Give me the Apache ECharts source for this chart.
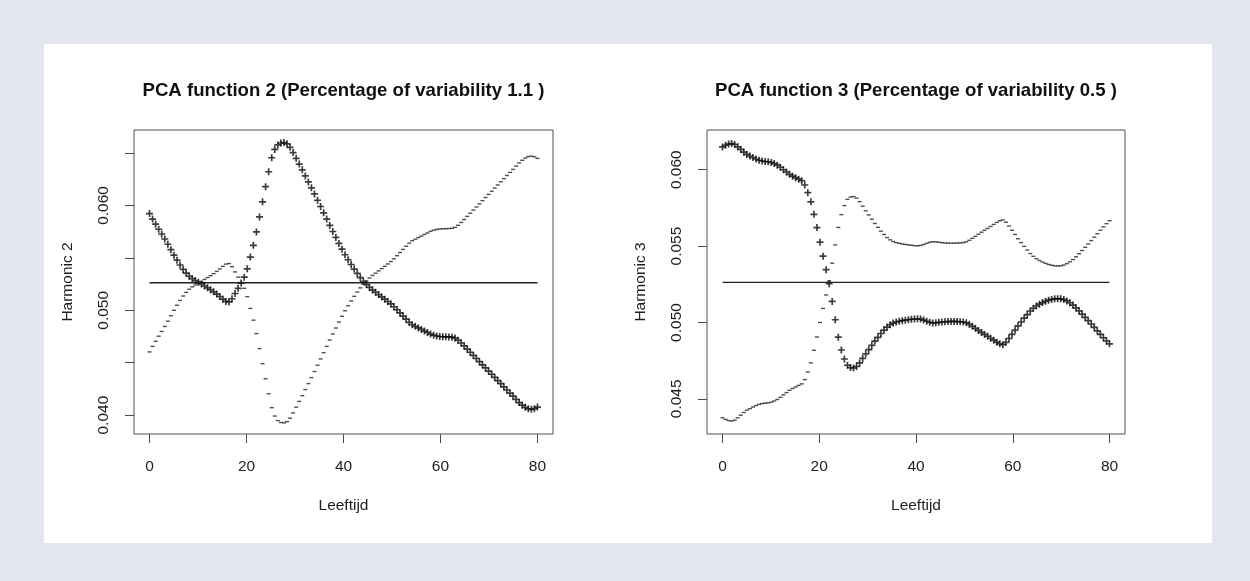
<!DOCTYPE html>
<html>
<head>
<meta charset="utf-8">
<script src="https://cdn.jsdelivr.net/npm/echarts@6/dist/echarts.min.js"></script>
<style>
html,body{margin:0;padding:0;background:#e3e6ee;}
#chart{width:1250px;height:581px;}
</style>
</head>
<body>
<div id="chart"></div>
<script>
// ---- data ----
const titles = ["PCA function 2 (Percentage of variability 1.1 )", "PCA function 3 (Percentage of variability 0.5 )"];
const xName = "Leeftijd";
const yNames = ["Harmonic 2", "Harmonic 3"];
const xTicks = [0, 20, 40, 60, 80];
const leftYTicks = [0.040, 0.045, 0.050, 0.055, 0.060, 0.065];
const leftYLabels = [0.040, 0.050, 0.060];
const rightYTicks = [0.045, 0.050, 0.055, 0.060];
const rightYLabels = [0.045, 0.050, 0.055, 0.060];
const meanValue = 0.05263;
const nPoints = 128;
const ageMin = 0, ageMax = 80;

const plus2 = [0.05923,0.05870,0.05822,0.05773,0.05728,0.05680,0.05630,0.05578,0.05526,0.05478,
0.05432,0.05390,0.05355,0.05325,0.05302,0.05284,0.05268,0.05252,0.05232,0.05214,
0.05196,0.05176,0.05155,0.05132,0.05106,0.05085,0.05080,0.05110,0.05160,0.05210,
0.05260,0.05316,0.05396,0.05508,0.05620,0.05748,0.05891,0.06035,0.06179,0.06322,
0.06455,0.06535,0.06578,0.06596,0.06600,0.06588,0.06555,0.06505,0.06450,0.06395,
0.06340,0.06282,0.06225,0.06168,0.06110,0.06050,0.05990,0.05930,0.05870,0.05810,
0.05752,0.05695,0.05638,0.05583,0.05530,0.05482,0.05437,0.05393,0.05352,0.05312,
0.05275,0.05245,0.05218,0.05193,0.05172,0.05150,0.05128,0.05106,0.05084,0.05061,
0.05034,0.05005,0.04975,0.04945,0.04915,0.04885,0.04862,0.04847,0.04832,0.04818,
0.04802,0.04788,0.04773,0.04762,0.04755,0.04750,0.04748,0.04747,0.04746,0.04744,
0.04735,0.04715,0.04688,0.04660,0.04630,0.04600,0.04570,0.04540,0.04510,0.04480,
0.04450,0.04420,0.04390,0.04360,0.04330,0.04300,0.04270,0.04240,0.04210,0.04182,
0.04150,0.04120,0.04095,0.04074,0.04060,0.04055,0.04062,0.04077];

const minus2 = [0.04603,0.04656,0.04704,0.04753,0.04798,0.04846,0.04896,0.04948,0.05000,0.05048,
0.05094,0.05136,0.05171,0.05201,0.05224,0.05242,0.05258,0.05274,0.05294,0.05312,
0.05330,0.05350,0.05371,0.05394,0.05420,0.05441,0.05446,0.05416,0.05366,0.05316,
0.05266,0.05210,0.05130,0.05018,0.04906,0.04778,0.04635,0.04491,0.04347,0.04204,
0.04071,0.03991,0.03948,0.03930,0.03926,0.03938,0.03971,0.04021,0.04076,0.04131,
0.04186,0.04244,0.04301,0.04358,0.04416,0.04476,0.04536,0.04596,0.04656,0.04716,
0.04774,0.04831,0.04888,0.04943,0.04996,0.05044,0.05089,0.05133,0.05174,0.05214,
0.05251,0.05281,0.05308,0.05333,0.05354,0.05376,0.05398,0.05420,0.05442,0.05465,
0.05492,0.05521,0.05551,0.05581,0.05611,0.05641,0.05664,0.05679,0.05694,0.05708,
0.05724,0.05738,0.05753,0.05764,0.05771,0.05776,0.05778,0.05779,0.05780,0.05782,
0.05791,0.05811,0.05838,0.05866,0.05896,0.05926,0.05956,0.05986,0.06016,0.06046,
0.06076,0.06106,0.06136,0.06166,0.06196,0.06226,0.06256,0.06286,0.06316,0.06344,
0.06376,0.06406,0.06431,0.06452,0.06466,0.06471,0.06464,0.06449];

const plus3 = [0.06149,0.06160,0.06168,0.06171,0.06165,0.06150,0.06133,0.06115,0.06100,0.06090,
0.06080,0.06070,0.06062,0.06057,0.06054,0.06052,0.06048,0.06040,0.06030,0.06016,
0.06000,0.05985,0.05970,0.05958,0.05948,0.05938,0.05928,0.05900,0.05850,0.05790,
0.05708,0.05621,0.05526,0.05434,0.05346,0.05254,0.05138,0.05018,0.04904,0.04820,
0.04761,0.04720,0.04705,0.04702,0.04712,0.04735,0.04765,0.04795,0.04822,0.04850,
0.04878,0.04903,0.04928,0.04950,0.04970,0.04985,0.04996,0.05003,0.05008,0.05012,
0.05015,0.05018,0.05021,0.05023,0.05024,0.05022,0.05016,0.05008,0.05001,0.04997,
0.04998,0.05001,0.05003,0.05005,0.05006,0.05007,0.05007,0.05006,0.05005,0.05003,
0.04998,0.04988,0.04975,0.04962,0.04948,0.04935,0.04922,0.04910,0.04897,0.04884,
0.04871,0.04860,0.04855,0.04870,0.04895,0.04922,0.04950,0.04978,0.05003,0.05028,
0.05052,0.05075,0.05093,0.05108,0.05120,0.05130,0.05139,0.05146,0.05151,0.05155,
0.05156,0.05155,0.05150,0.05141,0.05129,0.05114,0.05096,0.05076,0.05055,0.05034,
0.05012,0.04990,0.04968,0.04945,0.04922,0.04900,0.04879,0.04860];

const minus3 = [0.04377,0.04366,0.04358,0.04355,0.04361,0.04376,0.04393,0.04411,0.04426,0.04436,
0.04446,0.04456,0.04464,0.04469,0.04472,0.04474,0.04478,0.04486,0.04496,0.04510,
0.04526,0.04541,0.04556,0.04568,0.04578,0.04588,0.04598,0.04626,0.04676,0.04736,
0.04818,0.04905,0.05000,0.05092,0.05180,0.05272,0.05388,0.05508,0.05622,0.05706,
0.05765,0.05806,0.05821,0.05824,0.05814,0.05791,0.05761,0.05731,0.05704,0.05676,
0.05648,0.05623,0.05598,0.05576,0.05556,0.05541,0.05530,0.05523,0.05518,0.05514,
0.05511,0.05508,0.05505,0.05503,0.05502,0.05504,0.05510,0.05518,0.05525,0.05529,
0.05528,0.05525,0.05523,0.05521,0.05520,0.05519,0.05519,0.05520,0.05521,0.05523,
0.05528,0.05538,0.05551,0.05564,0.05578,0.05591,0.05604,0.05616,0.05629,0.05642,
0.05655,0.05666,0.05671,0.05656,0.05631,0.05604,0.05576,0.05548,0.05523,0.05498,
0.05474,0.05451,0.05433,0.05418,0.05406,0.05396,0.05387,0.05380,0.05375,0.05371,
0.05370,0.05371,0.05376,0.05385,0.05397,0.05412,0.05430,0.05450,0.05471,0.05492,
0.05514,0.05536,0.05558,0.05581,0.05604,0.05626,0.05647,0.05666];

// ---- build ----
const ages = [];
for (let i = 0; i < nPoints; i++) ages.push(ageMin + i * (ageMax - ageMin) / (nPoints - 1));
const pairs = arr => arr.map((v, i) => [ages[i], v]);

const FONT = '"Liberation Sans", Arial, Helvetica, sans-serif';
const TXT = '#1e1e1e';
const AX = '#4a4a4a';
const PLUS = 'path://M3.8,0H6.2V3.8H10V6.2H6.2V10H3.8V6.2H0V3.8H3.8Z';
const LABEL_SIZE = 15.5;

const boxes = [
  {left: 134, right: 553},
  {left: 707, right: 1125}
];
const gTop = 130, gBottom = 434;
const yRanges = [[0.0382, 0.0672], [0.0427, 0.0626]];
const yTicks = [leftYTicks, rightYTicks];
const yLabels = [leftYLabels, rightYLabels];
const plusData = [plus2, plus3];
const minusData = [minus2, minus3];

const grids = [], xAxes = [], yAxes = [], series = [], graphics = [];
graphics.push({type:'rect', shape:{x:44, y:44, width:1168, height:499}, style:{fill:'#ffffff'}, z:-10, silent:true});

boxes.forEach((b, k) => {
  grids.push({left: b.left, width: b.right - b.left, top: gTop, height: gBottom - gTop,
    show: true, borderColor: '#505050', borderWidth: 1, backgroundColor: 'transparent'});
  xAxes.push({type:'value', gridIndex:k, min:-3.2, max:83.2,
    axisLine:{show:false, onZero:false}, splitLine:{show:false},
    axisTick:{show:true, customValues:xTicks, length:9, lineStyle:{color:AX, width:1}},
    axisLabel:{customValues:xTicks, margin:25, fontSize:LABEL_SIZE, color:TXT, fontFamily:FONT}});
  yAxes.push({type:'value', gridIndex:k, min:yRanges[k][0], max:yRanges[k][1],
    axisLine:{show:false, onZero:false}, splitLine:{show:false},
    axisTick:{show:true, customValues:yTicks[k], length:9, lineStyle:{color:AX, width:1}},
    axisLabel:{customValues:yLabels[k], rotate:90, margin:22, fontSize:LABEL_SIZE, color:TXT, fontFamily:FONT,
      formatter: v => v.toFixed(3)}});
  series.push({type:'line', xAxisIndex:k, yAxisIndex:k, data:[[ages[0], meanValue],[ages[nPoints-1], meanValue]],
    symbol:'none', lineStyle:{color:'#222222', width:1.3}, animation:false, z:2});
  series.push({type:'scatter', xAxisIndex:k, yAxisIndex:k, data:pairs(plusData[k]),
    symbol:PLUS, symbolSize:7, itemStyle:{color:'#0a0a0a'}, animation:false, z:3});
  series.push({type:'scatter', xAxisIndex:k, yAxisIndex:k, data:pairs(minusData[k]),
    symbol:'rect', symbolSize:[4,1.4], itemStyle:{color:'#222222'}, animation:false, z:4});
  const cx = (b.left + b.right) / 2;
  graphics.push({type:'text', x:cx, y:91, style:{text:titles[k], fill:'#111', font:'bold 18.6px ' + FONT, textAlign:'center', textVerticalAlign:'middle'}});
  graphics.push({type:'text', x:cx, y:506, style:{text:xName, fill:TXT, font:LABEL_SIZE + 'px ' + FONT, textAlign:'center', textVerticalAlign:'middle'}});
  graphics.push({type:'text', x:b.left - 66, y:(gTop+gBottom)/2, rotation:Math.PI/2,
    style:{text:yNames[k], fill:TXT, font:LABEL_SIZE + 'px ' + FONT, textAlign:'center', textVerticalAlign:'middle'}});
});

const chart = echarts.init(document.getElementById('chart'), null, {renderer:'canvas'});
chart.setOption({
  backgroundColor:'#e3e6ee',
  animation:false,
  grid:grids, xAxis:xAxes, yAxis:yAxes, series:series, graphic:graphics
});
</script>
</body>
</html>
